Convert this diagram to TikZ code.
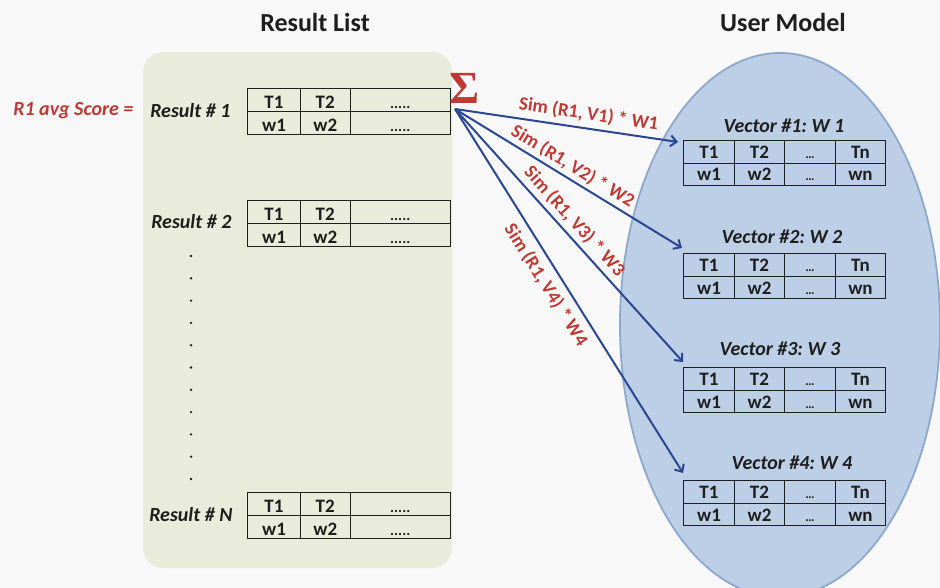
\documentclass[tikz,border=0pt]{standalone}
\usepackage{fontspec}
\setmainfont{Carlito}
\newfontfamily\sumfont{Liberation Serif}
\usetikzlibrary{matrix,arrows.meta,calc,shapes.geometric}
\frenchspacing

\definecolor{pagebg}{RGB}{248,248,248}
\definecolor{listfill}{RGB}{233,235,219}
\definecolor{modelfill}{RGB}{188,207,231}
\definecolor{modeledge}{RGB}{140,168,205}
\definecolor{simred}{RGB}{190,58,52}
\definecolor{arrowblue}{RGB}{42,72,145}
\definecolor{inkdark}{RGB}{30,30,30}

\tikzset{
  heading/.style={font=\bfseries\fontsize{26}{28}\selectfont, text=inkdark},
  itemlabel/.style={font=\bfseries\itshape\fontsize{20}{22}\selectfont, text=inkdark},
  scorelabel/.style={font=\bfseries\itshape\fontsize{20}{22}\selectfont, text=simred},
  simlabel/.style={font=\bfseries\fontsize{19}{21}\selectfont, text=simred, inner sep=2pt},
  link/.style={draw=arrowblue, line width=2pt, -{Straight Barb[length=6pt,width=11pt]}},
  cell/.style={draw=inkdark, line width=1.1pt, inner sep=0pt, anchor=center,
    font=\bfseries\fontsize{19}{21}\selectfont, text=inkdark},
  rescell/.style={cell, minimum height=23pt, text height=17pt, text depth=0pt},
  veccell/.style={cell, minimum height=22.5pt, text height=15pt, text depth=2pt, minimum width=50.5pt},
  restable/.style={matrix of nodes, inner sep=0pt, anchor=north west,
    column sep=-1.1pt, row sep=-1.1pt, nodes={rescell},
    column 1/.style={nodes={minimum width=52.5pt}},
    column 2/.style={nodes={minimum width=50pt}},
    column 3/.style={nodes={minimum width=100pt}}},
  vectable/.style={matrix of nodes, inner sep=0pt, anchor=north west,
    column sep=-1.1pt, row sep=-1.1pt, nodes={veccell}},
}
\newcommand{\mdots}{{\fontsize{13}{13}\selectfont\char"2026}}
\newcommand{\rdots}{{\fontsize{15}{15}\selectfont .....}}

\begin{document}
\begin{tikzpicture}[x=1pt,y=-1pt]
\useasboundingbox[fill=pagebg] (0,0) rectangle (940,588);

% panels
\node[draw=none, fill=listfill, rounded corners=20pt, minimum width=309pt,
      minimum height=516pt, inner sep=0pt] (list) at (297.5,310) {};
\node[ellipse, fill=modelfill, draw=modeledge, line width=1.8pt,
      minimum width=320pt, minimum height=544pt, inner sep=0pt] (model) at (780,325) {};

% headings
\node[heading] (hlist) at (315,22) {Result List};
\node[heading] (hmodel) at (783,22) {User Model};

% result list
\matrix[restable] (r1) at (247,88) {T1 & T2 & \rdots\\ w1 & w2 & \rdots\\};
\matrix[restable] (r2) at (247,200) {T1 & T2 & \rdots\\ w1 & w2 & \rdots\\};
\matrix[restable] (rn) at (247,492) {T1 & T2 & \rdots\\ w1 & w2 & \rdots\\};

\node[itemlabel, anchor=east] (l1) at (234,111) {Result \# 1};
\node[itemlabel, anchor=east] (l2) at (235,222) {Result \# 2};
\node[itemlabel, anchor=east] (ln) at (236,515) {Result \# N};
\node[scorelabel, anchor=east] (score) at (137,111) {R1 avg Score =};

\foreach \k in {0,...,10}
  \fill[inkdark] (191,256+22.3*\k) circle (1.3pt);

% sum symbol and fan-out point
\node[font=\sumfont\bfseries\fontsize{46}{46}\selectfont, text=simred, inner sep=0pt] (sum) at (465,88) {Σ};
\coordinate (fan) at (455,109);

% user model vectors
\node[itemlabel] (v1lab) at (784,126) {Vector \#1: W 1};
\matrix[vectable] (v1) at (683,140) {T1 & T2 & \mdots & Tn\\ w1 & w2 & \mdots & wn\\};
\node[itemlabel] (v2lab) at (782,237) {Vector \#2: W 2};
\matrix[vectable] (v2) at (683,253) {T1 & T2 & \mdots & Tn\\ w1 & w2 & \mdots & wn\\};
\node[itemlabel] (v3lab) at (780,349) {Vector \#3: W 3};
\matrix[vectable] (v3) at (683,367) {T1 & T2 & \mdots & Tn\\ w1 & w2 & \mdots & wn\\};
\node[itemlabel] (v4lab) at (792,463) {Vector \#4: W 4};
\matrix[vectable] (v4) at (683,480) {T1 & T2 & \mdots & Tn\\ w1 & w2 & \mdots & wn\\};

% similarity links
\draw[link] (fan) -- node[simlabel, pos=.59, above=3pt, sloped] {Sim (R1, V1) * W1} ($(v1.north west)+(-5,2)$);
\draw[link] (fan) -- node[simlabel, pos=.49, above=1pt, sloped] {Sim (R1, V2) * W2} ($(v2.north west)+(-1,-5)$);
\draw[link] (fan) -- node[simlabel, pos=.48, above=2pt, sloped] {Sim (R1, V3) * W3} ($(v3.north west)+(0,-5)$);
\draw[link] (fan) -- node[simlabel, pos=.46, below=5pt, sloped] {Sim (R1, V4) * W4} ($(v4.north west)+(0,-7)$);
\end{tikzpicture}
\end{document}
